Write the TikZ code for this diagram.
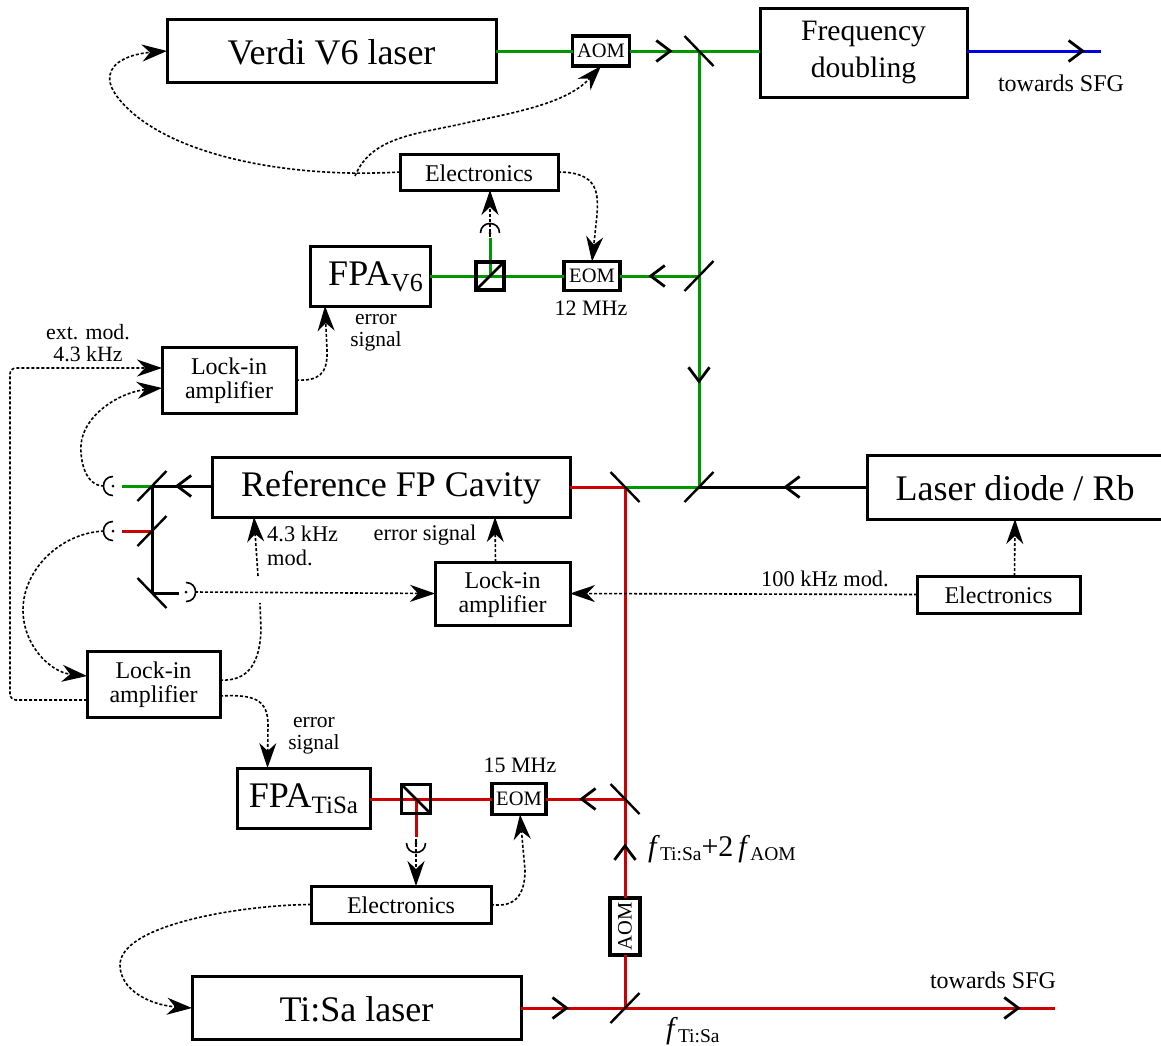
\documentclass[tikz,border=0pt]{standalone}
\usepackage{fontspec}
\setmainfont{Liberation Serif}
\usetikzlibrary{arrows.meta,decorations.markings,calc}
\definecolor{bgreen}{RGB}{0,150,0}
\definecolor{bred}{RGB}{204,0,0}
\definecolor{bblue}{RGB}{0,0,225}
\newcommand{\fsz}[2]{\fontsize{#1pt}{#2pt}\selectfont}
\newcommand{\dn}[1]{\raisebox{-1pt}[\height][\depth]{#1}}
\newcommand{\dnn}[3][-2pt]{\raisebox{#1}[\height][\depth]{\begin{tabular}{@{}c@{}}#2\\#3\end{tabular}}}
\newcommand{\mirU}[1]{\draw[mirrorline] ([shift={(-14.5,15)}]#1) -- ([shift={(14.5,-15)}]#1);}
\newcommand{\mirD}[1]{\draw[mirrorline] ([shift={(-14.5,-15)}]#1) -- ([shift={(14.5,15)}]#1);}
\tikzset{
  bx/.style={draw,fill=white,line width=3pt,inner sep=0pt,outer sep=0pt,align=center},
  bigbx/.style={bx,font=\fsz{36}{40}},
  midbx/.style={bx,line width=3pt,font=\fsz{24}{23.5}},
  smallbx/.style={bx,line width=3.2pt,font=\fsz{20.5}{22}},
  lbl/.style={inner sep=0pt,align=center,font=\fsz{22.4}{22}},
  cube/.style={draw,line width=3.2pt,minimum size=28pt,inner sep=0pt,outer sep=0pt},
  beam/.style={line width=3pt},
  gbeam/.style={beam,bgreen},
  rbeam/.style={beam,bred},
  kbeam/.style={beam,black},
  bbeam/.style={beam,bblue},
  mirrorline/.style={line width=2.4pt,black},
  mid/.style={postaction={decorate,decoration={markings,mark=at position #1 with {\arrow[black,line width=2.8pt]{Straight Barb[length=14pt,width=21pt]}}}}},
  sig/.style={line width=1.6pt,dash pattern=on 3pt off 2pt},
  sigarrow/.style={sig,-{Stealth[length=25pt,width=17pt,inset=8pt]}},
  pd/.pic={\draw[line width=1.6pt] (0,-9.5) .. controls (-12.7,-9.5) and (-12.7,9.5) .. (0,9.5);
           \fill (0,0) circle[radius=1.5pt];},
}
\begin{document}
\begin{tikzpicture}[x=1pt,y=-1pt]
\fill[white] (0,0) rectangle (1161,1045);
\useasboundingbox (0,0) rectangle (1161,1045);

% mirror positions and free ends
\coordinate (m1) at (699,51);
\coordinate (m2) at (699,276);
\coordinate (m3) at (699,487);
\coordinate (m5) at (625,487);
\coordinate (m6) at (625,799);
\coordinate (m7) at (625,1008);
\coordinate (l1) at (152,486);
\coordinate (l2) at (152,531);
\coordinate (l3) at (152,593);
\coordinate (blueend) at (1101,51);
\coordinate (redend) at (1055,1008);
\coordinate (pdA) at (113,486);
\coordinate (pdB) at (113,531);
\coordinate (pdC) at (186,592);
\coordinate (pdT) at (490,233);
\coordinate (pdU) at (416,843);
\coordinate (gA) at (122,486);
\coordinate (rB) at (122,531);
\coordinate (kC) at (179,593);
\coordinate (gT) at (490,238);
\coordinate (rU) at (416,837);

% boxes
\node[bigbx,minimum width=329pt,minimum height=63pt] (verdi) at (331.5,51) {\dn{Verdi V6 laser}};
\node[smallbx,minimum width=57pt,minimum height=30pt] (aomA) at (601,51) {AOM};
\node[bx,minimum width=207pt,minimum height=89pt,font=\fsz{29.6}{37}] (freq) at (863.5,52.5) {\dnn[1pt]{Frequency}{doubling}};
\node[midbx,minimum width=158pt,minimum height=36pt] (elecA) at (479,172) {\dn{Electronics}};
\node[smallbx,minimum width=56pt,minimum height=29pt] (eomA) at (592,276) {EOM};
\node[bx,minimum width=120pt,minimum height=60pt,font=\fsz{36}{40}] (fpaA) at (370,276) {\hspace*{11pt}\dn{FPA\raisebox{-6pt}{\fsz{26}{26}V6}}};
\node[midbx,minimum width=134pt,minimum height=66pt] (lockA) at (229,380) {\dnn{Lock-in}{amplifier}};
\node[bigbx,minimum width=358pt,minimum height=60pt] (cavity) at (391,487) {\dn{Reference FP Cavity}};
\node[bigbx,minimum width=295pt,minimum height=64pt] (diode) at (1015,487) {\dn{Laser diode / Rb}};
\node[midbx,minimum width=163pt,minimum height=37pt] (elecB) at (998.5,594.5) {\dn{Electronics}};
\node[midbx,minimum width=135pt,minimum height=63pt] (lockB) at (502.5,593.5) {\dnn{Lock-in}{amplifier}};
\node[midbx,minimum width=133pt,minimum height=66pt] (lockC) at (153.5,684) {\dnn{Lock-in}{amplifier}};
\node[bx,minimum width=133pt,minimum height=60pt,font=\fsz{36}{40}] (fpaB) at (303.5,798) {\dn{FPA\raisebox{-6pt}{\fsz{25}{25}TiSa}}};
\node[smallbx,minimum width=54pt,minimum height=31pt] (eomB) at (519,799) {EOM};
\node[midbx,minimum width=180pt,minimum height=37pt] (elecC) at (401,904.5) {\dn{Electronics}};
\node[smallbx,rotate=90,minimum width=57pt,minimum height=30pt] (aomB) at (625,926.5) {AOM};
\node[bigbx,minimum width=329pt,minimum height=63pt] (tisa) at (356.5,1008) {\dn{Ti:Sa laser}};
\node[cube] (pbsA) at (490,276) {};
\node[cube,minimum size=29pt] (pbsB) at (416,799) {};

% beams
\draw[gbeam] (verdi) -- (aomA);
\draw[gbeam,mid=0.62] (aomA) -- (m1);
\draw[gbeam] (m1) -- (m1 -| freq.west);
\draw[bbeam,mid=0.88] (m1 -| freq.east) -- (blueend);
\draw[gbeam] (m1) -- (m2);
\draw[gbeam,mid=0.51] (m2) -- (m3);
\draw[gbeam,mid=0.64] (m2) -- (eomA);
\draw[gbeam] (eomA) -- (fpaA);
\draw[gbeam] (pbsA.center) -- (gT);
\draw[kbeam,mid=0.5] (diode) -- (m3);
\draw[gbeam] (m3) -- (m5);
\draw[rbeam] (m5) -- (cavity);
\draw[rbeam] (m5) -- (m6);
\draw[rbeam] (m7) -- (aomB);
\draw[rbeam,mid=0.55] (aomB) -- (m6);
\draw[rbeam,mid=0.58] (m6) -- (eomB);
\draw[rbeam] (eomB) -- (m6 -| fpaB.east);
\draw[rbeam] (pbsB.center) -- (rU);
\draw[rbeam,mid=0.46] (tisa) -- (m7);
\draw[rbeam,mid=0.92] (m7) -- (redend);
\draw[kbeam,mid=0.62] (l1 -| cavity.west) -- (l1);
\draw[gbeam] (l1) -- (gA);
\draw[kbeam] (l1) -- (l3);
\draw[rbeam] (l2) -- (rB);
\draw[kbeam] (l3) -- (kC);

% cubes' diagonals
\draw[line width=2.8pt] (pbsA.south west) -- (pbsA.north east);
\draw[line width=2.8pt] (pbsB.north west) -- (pbsB.south east);
\node[cube] (pbsAf) at (pbsA) {};
\node[cube,minimum size=29pt] (pbsBf) at (pbsB) {};

% mirrors
\mirD{m1}
\mirU{m2}
\mirU{m3}
\mirD{m5}
\mirD{m6}
\mirU{m7}
\mirU{l1}
\mirU{l2}
\mirD{l3}

% detectors
\pic at (pdA) {pd};
\pic at (pdB) {pd};
\pic[rotate=180] at (pdC) {pd};
\pic[rotate=-90] at (pdT) {pd};
\pic[rotate=90] at (pdU) {pd};

% signal lines
\coordinate (branch) at (355,176);
\draw[sigarrow] (elecA.west) .. controls (300,178) and (190,160) .. (135,115)
   .. controls (115,98) and (108,85) .. (110,75)
   .. controls (112,62) and (130,54) .. (verdi.west);
\draw[sigarrow] (branch) .. controls (372,135) and (420,134) .. (470,122)
   .. controls (530,110) and (570,100) .. (aomA.south);
\draw[sigarrow] (elecA.east) .. controls (600,172) and (598,195) .. (597,215) -- (eomA.north);
\draw[sigarrow] ([yshift=-4pt]pdT) -- (elecA.south -| pdT);
\draw[sigarrow] (lockA.east) .. controls (318,381) and (328,375) .. (327,350) -- ([xshift=-45pt]fpaA.south);
\draw[sigarrow,rounded corners=6pt] ([yshift=-16pt]lockC.west) -- (10,700) -- (10,368) -- ([yshift=12pt]lockA.west);
\draw[sigarrow] ([xshift=-9pt]pdA) .. controls (85,486) and (80,460) .. (81,445)
   .. controls (83,415) and (120,392) .. ([yshift=-8pt]lockA.west);
\draw[sigarrow] ([xshift=-9pt]pdB) .. controls (60,533) and (23,570) .. (23,610)
   .. controls (23,645) and (50,672) .. ([yshift=8pt]lockC.west);
\draw[sigarrow] ([xshift=9pt]pdC) -- (lockB.west);
\coordinate (gapA) at (260,603);
\coordinate (gapB) at (258,576);
\draw[sig] ([yshift=4pt]lockC.east) .. controls (250,682) and (260,660) .. (261,630) -- (gapA);
\draw[sigarrow] (gapB) -- ([xshift=-137pt]cavity.south);
\draw[sigarrow] ([yshift=-12pt]lockC.east) .. controls (255,694) and (268,700) .. (268,725) -- ([xshift=-36pt]fpaB.north);
\draw[sigarrow] ([xshift=-7pt]lockB.north) -- ([xshift=104pt]cavity.south);
\draw[sigarrow] (elecB.west) -- (lockB.east);
\draw[sigarrow] ([xshift=16pt]elecB.north) -- (diode.south);
\draw[sigarrow] ([yshift=4pt]pdU) -- (elecC.north -| pdU);
\draw[sigarrow] (elecC.east) .. controls (515,908) and (525,895) .. (525,870) -- ([xshift=1pt]eomB.south);
\draw[sigarrow] (elecC.west) .. controls (240,905) and (120,925) .. (120,965)
   .. controls (120,990) and (150,1005) .. (tisa.west);

% labels
\node[lbl,font=\fsz{24}{24}] (tsfgA) at (1061,83) {towards SFG};
\node[lbl,font=\fsz{24}{24}] (tsfgB) at (993,980) {towards SFG};
\node[lbl,font=\fsz{22}{22}] (mhzA) at (591,308) {12 MHz};
\node[lbl,font=\fsz{22}{22}] (mhzB) at (520,765) {15 MHz};
\node[lbl,font=\fsz{21.5}{22}] (errA) at (376,333) {error\\signal};
\node[lbl,font=\fsz{21.5}{22}] (errB) at (314,736) {error\\signal};
\node[lbl,font=\fsz{21.8}{22}] (ext) at (88,343) {ext. mod.\\4.3 kHz};
\node[lbl,font=\fsz{22.4}{24},align=left,anchor=west] (modA) at (267,546) {4.3 kHz\\mod.};
\node[lbl] (errC) at (425,535) {error signal};
\node[lbl] (modB) at (825,579) {100 kHz mod.};
\node[lbl,font=\fsz{30}{30},anchor=west] (fA) at (648,849) {\textit{f}\raisebox{-4pt}{\fsz{19.5}{20}Ti:Sa}+2\,\textit{f}\raisebox{-4pt}{\fsz{19.5}{20}AOM}};
\node[lbl,font=\fsz{30}{30},anchor=west] (fB) at (666,1031) {\textit{f}\raisebox{-4pt}{\fsz{19.5}{20}Ti:Sa}};
\end{tikzpicture}
\end{document}
